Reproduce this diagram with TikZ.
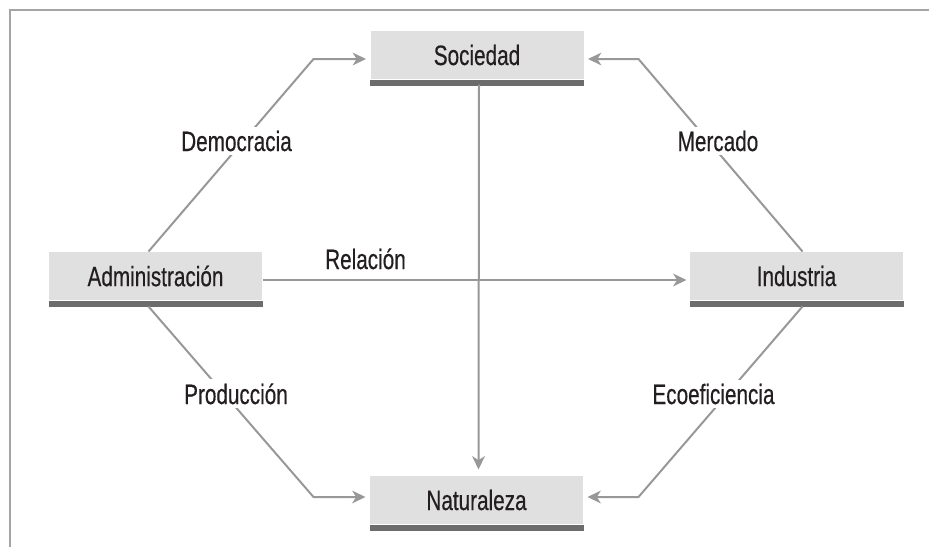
\documentclass[tikz,border=0pt]{standalone}
\usepackage{fontspec}
\setmainfont[FakeStretch=0.74,FakeBold=0.4]{Liberation Sans}
\usetikzlibrary{arrows.meta,calc}

\definecolor{fondocaja}{RGB}{224,224,224}
\definecolor{barracaja}{RGB}{108,108,108}
\definecolor{flecha}{RGB}{152,152,152}
\definecolor{marco}{RGB}{165,165,165}
\definecolor{texto}{RGB}{35,31,32}

\tikzset{every picture/.style={line width=0.75pt}}
\tikzset{
	caja/.style={fill=fondocaja, minimum width=159.75pt, minimum height=36pt, inner sep=0pt, text=texto, font=\fontsize{21}{24}\selectfont},
	barra/.style={draw=barracaja, line width=4.5pt},
	enlace/.style={draw=flecha, line width=1.5pt, -{Stealth[length=10pt,width=9.5pt,inset=3pt]}},
	etiqueta/.style={fill=white, inner sep=3pt, anchor=base, text=texto, font=\fontsize{21}{24}\selectfont}
}

\begin{document}
\begin{tikzpicture}[x=0.75pt,y=0.75pt,yscale=-1,xscale=1]
	\useasboundingbox (0,0) rectangle (929,547);
	
	% marco
	\draw [marco, line width=1.5pt] (10,547) -- (10,10) -- (929,10) ;
	
	% cajas
	\node [caja] (soc) at (477,55) {Sociedad};
	\node [caja] (nat) at (476.5,500) {Naturaleza};
	\node [caja] (adm) at (155.5,276) {Administración};
	\node [caja] (ind) at (796.5,276) {Industria};
	\foreach \n in {soc,nat,adm,ind}
		\draw [barra] ($(\n.south west)+(0,3)$) -- ($(\n.south east)+(0,3)$) ;
	
	% flechas
	\draw [enlace] ($(adm.north)+(-7,0)$) -- ($(soc.west)+(-56.5,4)$) -- ($(soc.west)+(-4,4)$) ;
	\draw [enlace] ($(ind.north)+(6,0)$) -- ($(soc.east)+(54.5,4)$) -- ($(soc.east)+(4,4)$) ;
	\draw [enlace] ($(adm.south)+(-7,6)$) -- ($(nat.west)+(-56,-3)$) -- ($(nat.west)+(-4,-3)$) ;
	\draw [enlace] ($(ind.south)+(6,6)$) -- ($(nat.east)+(55,-3)$) -- ($(nat.east)+(4,-3)$) ;
	\draw [enlace] ($(adm.east)+(0,4)$) -- ($(ind.west)+(-3,4)$) ;
	\draw [enlace] ($(soc.south)+(2,5)$) -- ($(nat.north)+(2,-6)$) ;
	
	% etiquetas
	\node [etiqueta] (dem) at (236.5,151) {Democracia};
	\node [etiqueta] (mer) at (718,151) {Mercado};
	\node [etiqueta] (pro) at (236,404) {Producción};
	\node [etiqueta] (eco) at (713.5,404) {Ecoeficiencia};
	\node [etiqueta, fill=none] (rel) at (365.5,269) {Relación};
	
\end{tikzpicture}
\end{document}
